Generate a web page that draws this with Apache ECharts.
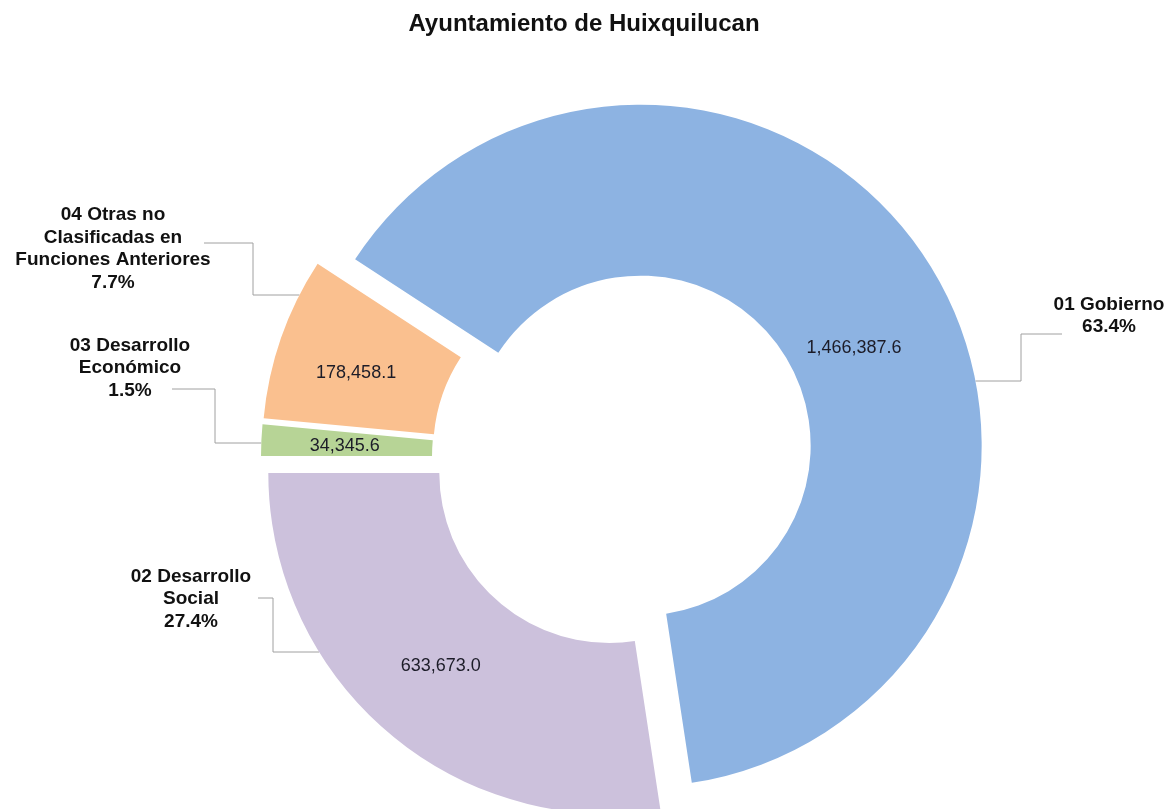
<!DOCTYPE html>
<html>
<head>
<meta charset="utf-8">
<script src="https://cdn.jsdelivr.net/npm/echarts@6/dist/echarts.min.js"></script>
<style>
  html, body { margin: 0; padding: 0; background: #fff; }
  #chart { width: 1174px; height: 809px; }
</style>
</head>
<body>
<div id="chart"></div>
<script>
// data
const categories = ['01 Gobierno', '02 Desarrollo\nSocial', '03 Desarrollo\nEconómico', '04 Otras no\nClasificadas en\nFunciones Anteriores'];
const values = [1466387.6, 633673.0, 34345.6, 178458.1];
const colors = ['#8db3e2', '#ccc1dc', '#b7d496', '#fac08f'];

// layout bits (not data)
// category label centres; leader routes [y where it leaves the ring, elbowX, y at label, endX]; value label nudges
const outerLabelPos = [[1109, 316], [191, 599], [130, 368], [113, 249]];
const leaderRoute = [[381, 1021, 334, 1062], [652, 273, 598, 258], [443, 215, 389, 172], [295, 253, 243, 204]];
const innerLabelShift = [[-4, 42], [0, -3], [1, 2], [-3, 8]];
const innerR = 170;
const outerR = 341;
const explode = 21;

const chart = echarts.init(document.getElementById('chart'));

const pieData = categories.map((name, i) => ({
    name: name,
    value: values[i],
    selected: true,
    itemStyle: { color: colors[i] }
}));

const fmtValue = v => v.toLocaleString('en-US', { minimumFractionDigits: 1, maximumFractionDigits: 1 });

const common = {
    type: 'pie',
    center: [623, 457],
    radius: [innerR, outerR],
    startAngle: 146.87,
    clockwise: true,
    selectedMode: 'multiple',
    selectedOffset: explode,
    percentPrecision: 1,
    avoidLabelOverlap: false,
    silent: true,
    animation: false
};

chart.setOption({
    title: {
        text: 'Ayuntamiento de Huixquilucan',
        left: 579,
        textAlign: 'center',
        top: 7,
        textStyle: { fontFamily: 'Liberation Sans, Arial', fontSize: 24, fontWeight: 'bold', color: '#111' }
    },
    series: [
        Object.assign({}, common, {
            data: pieData,
            label: {
                show: true,
                position: 'inside',
                formatter: p => fmtValue(p.value),
                fontFamily: 'Liberation Sans, Arial',
                fontSize: 18,
                color: '#1c1c28'
            },
            labelLine: { show: false },
            labelLayout: p => ({ dx: innerLabelShift[p.dataIndex][0], dy: innerLabelShift[p.dataIndex][1] })
        }),
        Object.assign({}, common, {
            data: pieData.map(d => Object.assign({}, d, { itemStyle: { color: 'rgba(0,0,0,0)' } })),
            label: {
                show: true,
                position: 'outside',
                formatter: '{b}\n{d}%',
                fontFamily: 'Liberation Sans, Arial',
                fontSize: 19,
                fontWeight: 'bold',
                lineHeight: 22.5,
                color: '#111'
            },
            labelLine: {
                show: true,
                length: 20,
                length2: 38,
                lineStyle: { color: '#a0a0a0', width: 1 }
            },
            labelLayout: p => {
                const i = p.dataIndex;
                const r = p.labelRect;
                const pts = p.labelLinePoints;
                const isLeft = pts[2][0] < pts[0][0];
                // label + line move with the exploded slice, so take that shift back out
                const ux = pts[1][0] - pts[0][0], uy = pts[1][1] - pts[0][1];
                const len = Math.sqrt(ux * ux + uy * uy) || 1;
                const ox = ux / len * explode, oy = uy / len * explode;
                // ring centre, from the library's own anchor on the outer edge
                const cx = pts[0][0] - ux / len * outerR;
                const cy = pts[0][1] - uy / len * outerR;
                const anchorX = isLeft ? r.x + r.width : r.x;
                const anchorY = r.y + r.height / 2;
                const t = outerLabelPos[i];
                const lead = leaderRoute[i];
                const sy = lead[0] - oy;
                const sx = cx + (isLeft ? -1 : 1) * Math.sqrt(Math.max(0, outerR * outerR - (sy - cy) * (sy - cy)));
                return {
                    dx: t[0] - ox - anchorX,
                    dy: t[1] - oy - anchorY,
                    align: 'center',
                    labelLinePoints: [
                        [sx, sy],
                        [lead[1] - ox, sy],
                        [lead[1] - ox, lead[2] - oy],
                        [lead[3] - ox, lead[2] - oy]
                    ]
                };
            }
        })
    ]
});
</script>
</body>
</html>
